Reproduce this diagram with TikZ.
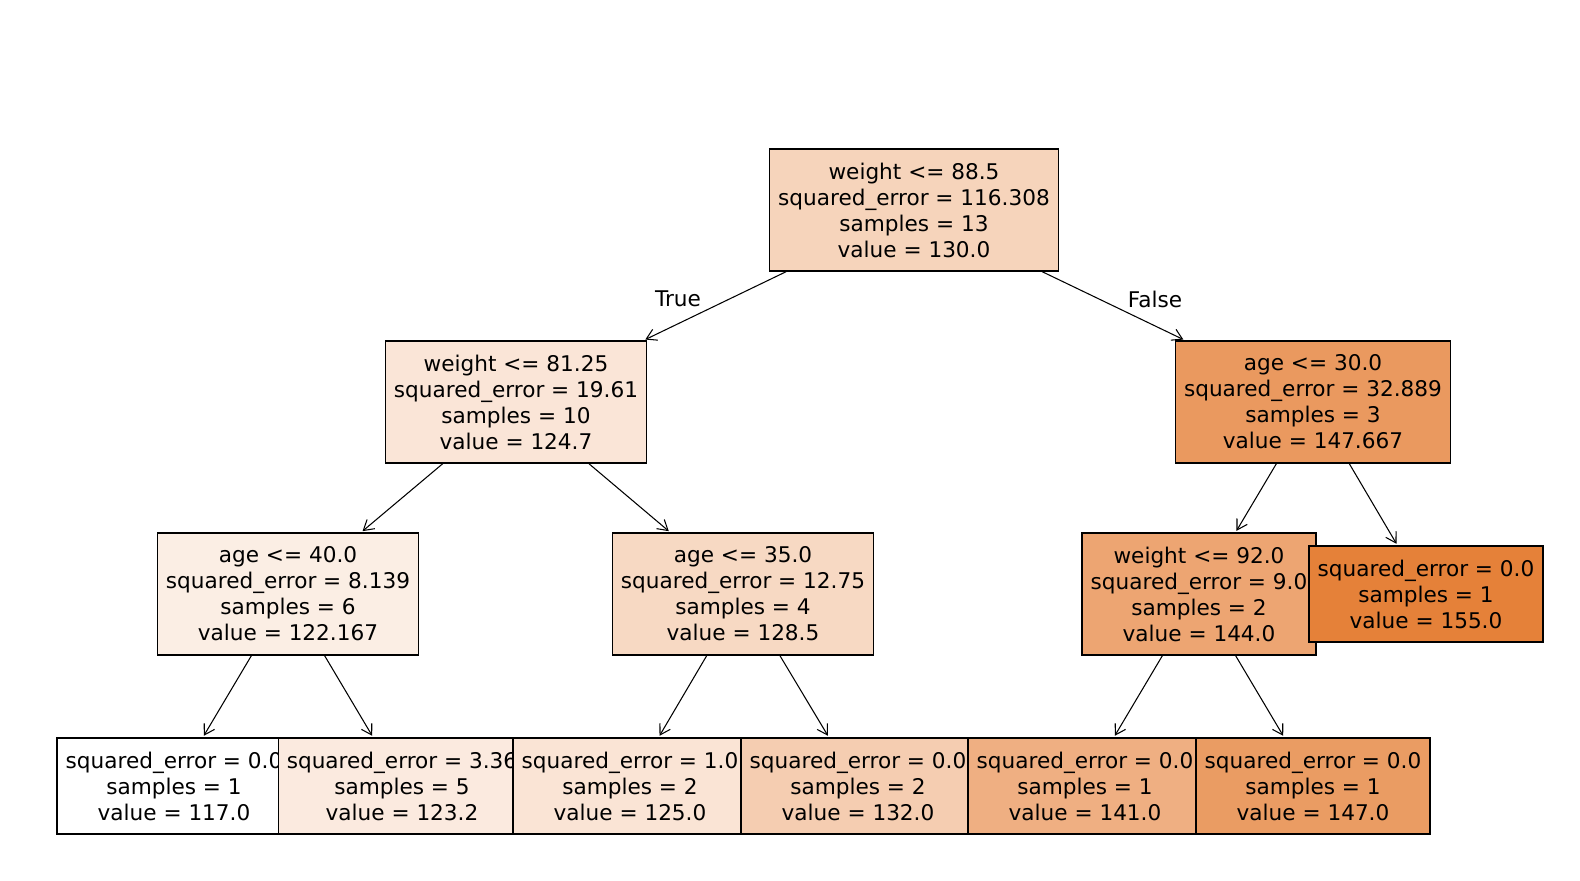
\documentclass[tikz,border=0pt]{standalone}
\usepackage{fontspec}
\setmainfont{DejaVu Sans}
\usepackage{tikz}
\usetikzlibrary{arrows.meta}

\definecolor{c117}{RGB}{255,255,255}
\definecolor{c1222}{RGB}{251,238,228}
\definecolor{c1232}{RGB}{251,234,223}
\definecolor{c1247}{RGB}{250,229,215}
\definecolor{c125}{RGB}{250,228,213}
\definecolor{c1285}{RGB}{247,217,195}
\definecolor{c130}{RGB}{246,212,187}
\definecolor{c132}{RGB}{245,205,177}
\definecolor{c141}{RGB}{239,175,130}
\definecolor{c144}{RGB}{237,165,114}
\definecolor{c147}{RGB}{234,156,99}
\definecolor{c1477}{RGB}{234,153,95}
\definecolor{c155}{RGB}{229,129,57}

\tikzset{
  treefont/.style={font=\fontsize{12.3pt}{14.8pt}\selectfont},
  box/.style={draw=black, line width=0.8pt, align=center, treefont,
    inner xsep=0.17cm, inner ysep=0pt},
  split/.style={box, minimum height=2.44cm},
  leaf/.style={box, minimum height=1.92cm},
}

\begin{document}
\begin{tikzpicture}[x=0.02cm,y=-0.02cm, line width=0.6pt,
  >={Straight Barb[length=0.2cm,width=0.24cm]}]
  \useasboundingbox (0,0) rectangle (1580,881);

  \draw (914,210) node[split,fill=c130] (root) {weight <= 88.5\\squared\_error = 116.308\\samples = 13\\value = 130.0};
  \draw (516,402) node[split,fill=c1247] (wl) {weight <= 81.25\\squared\_error = 19.61\\samples = 10\\value = 124.7};
  \draw (288,594) node[split,fill=c1222] (al) {age <= 40.0\\squared\_error = 8.139\\samples = 6\\value = 122.167};
  \draw (174,786) node[leaf,fill=c117] (l117) {squared\_error = 0.0\\samples = 1\\value = 117.0};
  \draw (402,786) node[leaf,fill=c1232] (l1232) {squared\_error = 3.36\\samples = 5\\value = 123.2};
  \draw (743,594) node[split,fill=c1285] (ar) {age <= 35.0\\squared\_error = 12.75\\samples = 4\\value = 128.5};
  \draw (630,786) node[leaf,fill=c125] (l125) {squared\_error = 1.0\\samples = 2\\value = 125.0};
  \draw (858,786) node[leaf,fill=c132] (l132) {squared\_error = 0.0\\samples = 2\\value = 132.0};
  \draw (1313,402) node[split,fill=c1477] (ag) {age <= 30.0\\squared\_error = 32.889\\samples = 3\\value = 147.667};
  \draw (1199,594) node[split,fill=c144] (wr) {weight <= 92.0\\squared\_error = 9.0\\samples = 2\\value = 144.0};
  \draw (1085,786) node[leaf,fill=c141] (l141) {squared\_error = 0.0\\samples = 1\\value = 141.0};
  \draw (1313,786) node[leaf,fill=c147] (l147) {squared\_error = 0.0\\samples = 1\\value = 147.0};
  \draw (1426,594) node[leaf,fill=c155] (l155) {squared\_error = 0.0\\samples = 1\\value = 155.0};

  \draw (678,299) node[treefont] (lbltrue) {True};
  \draw (1155,299) node[treefont] (lblfalse) {False};

  \path[->,shorten >=1pt] (root) edge (wl);
  \path[->,shorten >=1pt] (root) edge (ag);
  \path[->,shorten >=1pt] (wl) edge (al);
  \path[->,shorten >=1pt] (wl) edge (ar);
  \path[->,shorten >=1pt] (al) edge (l117);
  \path[->,shorten >=1pt] (al) edge (l1232);
  \path[->,shorten >=1pt] (ar) edge (l125);
  \path[->,shorten >=1pt] (ar) edge (l132);
  \path[->,shorten >=1pt] (ag) edge (wr);
  \path[->,shorten >=1pt] (ag) edge (l155);
  \path[->,shorten >=1pt] (wr) edge (l141);
  \path[->,shorten >=1pt] (wr) edge (l147);
\end{tikzpicture}
\end{document}
